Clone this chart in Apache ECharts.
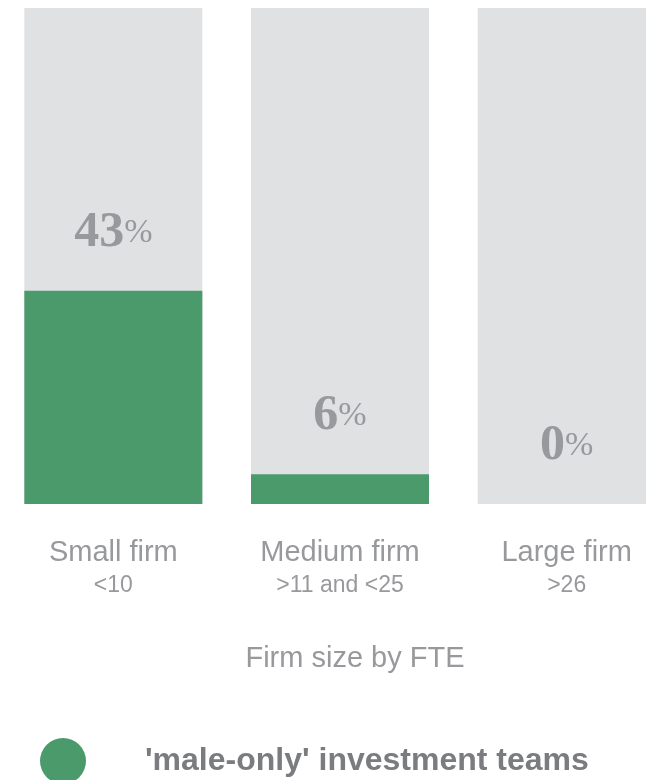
<!DOCTYPE html>
<html>
<head>
<meta charset="utf-8">
<script src="https://cdn.jsdelivr.net/npm/echarts@6/dist/echarts.min.js"></script>
<style>
html,body{margin:0;padding:0;background:#ffffff;}
#chart{width:646px;height:780px;}
</style>
</head>
<body>
<div id="chart"></div>
<script>
const categories = ['Small firm', 'Medium firm', 'Large firm'];
const subLabels = ['<10', '>11 and <25', '>26'];
const maleOnly = [43, 6, 0];
const seriesName = "'male-only' investment teams";
const axisTitle = 'Firm size by FTE';

const chart = echarts.init(document.getElementById('chart'));
const grey = '#98999c';
chart.setOption({
  backgroundColor: '#ffffff',
  animation: false,
  grid: { left: 0, width: 680, top: 8, bottom: 276, containLabel: false, outerBoundsMode: 'none' },
  legend: {
    data: [seriesName],
    left: 35,
    top: 733,
    icon: 'circle',
    itemWidth: 46,
    itemHeight: 46,
    selectedMode: false,
    textStyle: {
      fontFamily: 'Liberation Sans, Arial, sans-serif',
      fontSize: 32,
      fontWeight: 'bold',
      color: '#7b7c80',
      padding: [0, 0, 0, 54]
    }
  },
  xAxis: {
    type: 'category',
    data: categories,
    axisLine: { show: false },
    axisTick: { show: false },
    splitLine: { show: false },
    name: axisTitle,
    nameLocation: 'middle',
    nameGap: 140,
    nameTextStyle: {
      fontFamily: 'Liberation Sans, Arial, sans-serif',
      fontSize: 29,
      color: grey,
      padding: [0, 0, 0, 30]
    },
    axisLabel: {
      interval: 0,
      margin: 32,
      formatter: function (v, i) {
        return '{a|' + v + '}\n{b|' + subLabels[i] + '}';
      },
      rich: {
        a: { fontFamily: 'Liberation Sans, Arial, sans-serif', fontSize: 29, color: grey, lineHeight: 34 },
        b: { fontFamily: 'Liberation Sans, Arial, sans-serif', fontSize: 23, color: grey, lineHeight: 31 }
      }
    }
  },
  yAxis: {
    type: 'value',
    min: 0,
    max: 100,
    show: false,
    splitLine: { show: false }
  },
  series: [{
    name: seriesName,
    type: 'bar',
    data: maleOnly,
    barWidth: 178,
    itemStyle: { color: '#4a9a6c' },
    showBackground: true,
    backgroundStyle: { color: '#e0e1e3' },
    label: {
      show: true,
      position: 'top',
      distance: 33,
      formatter: function (p) { return '{n|' + p.value + '}{p|%}'; },
      rich: {
        n: { fontFamily: 'Liberation Serif, Times New Roman, serif', fontSize: 50, fontWeight: 'bold', color: grey, lineHeight: 50 },
        p: { fontFamily: 'Liberation Serif, Times New Roman, serif', fontSize: 34, fontWeight: 'normal', color: grey, lineHeight: 50 }
      }
    }
  }]
});
</script>
</body>
</html>
